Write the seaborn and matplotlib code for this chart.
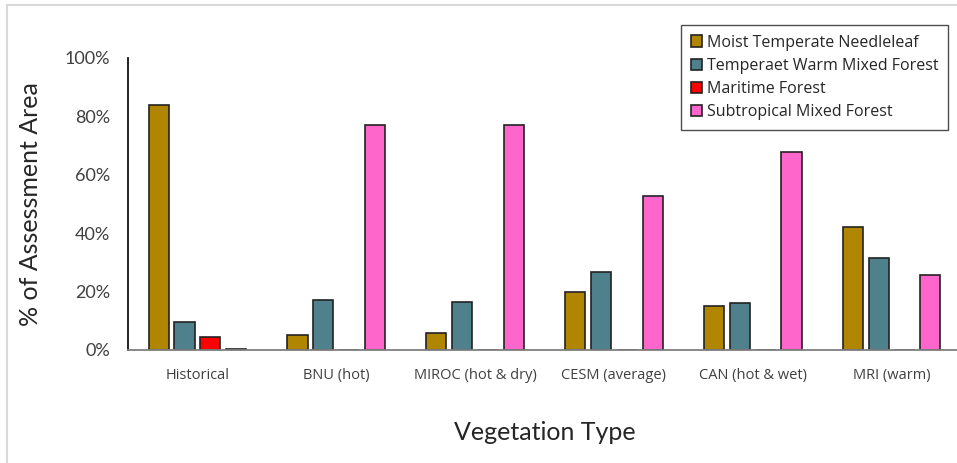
import matplotlib
matplotlib.use("Agg")
import matplotlib.pyplot as plt
from matplotlib.lines import Line2D
from matplotlib.ticker import PercentFormatter
import seaborn as sns
import pandas as pd

# Scenarios (x categories) and vegetation types (hue)
scenarios = ["Historical", "BNU (hot)", "MIROC (hot & dry)", "CESM (average)",
             "CAN (hot & wet)", "MRI (warm)"]
veg_types = ["Moist Temperate Needleleaf", "Temperaet Warm Mixed Forest",
             "Maritime Forest", "Subtropical Mixed Forest"]

# Share of the assessment area per vegetation type (fraction)
moist_temperate_needleleaf = [0.84, 0.051, 0.057, 0.199, 0.152, 0.421]
temperate_warm_mixed = [0.095, 0.171, 0.165, 0.267, 0.162, 0.315]
maritime_forest = [0.046, 0.0, 0.0, 0.0, 0.0, 0.0]
subtropical_mixed = [0.005, 0.77, 0.77, 0.527, 0.678, 0.257]

colors = ["#B08600", "#4F818D", "#FF0000", "#FF66CC"]

series = [moist_temperate_needleleaf, temperate_warm_mixed,
          maritime_forest, subtropical_mixed]
df = pd.DataFrame({
    "scenario": [s for _ in veg_types for s in scenarios],
    "veg": [v for v in veg_types for _ in scenarios],
    "share": [x for vals in series for x in vals],
})

sns.set_theme(style="white")
plt.rcParams["font.family"] = ["Open Sans", "DejaVu Sans"]

fig = plt.figure(figsize=(9.57, 4.63), dpi=100)
ax = fig.add_axes([128 / 957, 1 - 350 / 463, (961 - 128) / 957, 292 / 463])

sns.barplot(data=df, x="scenario", y="share", hue="veg", order=scenarios,
            hue_order=veg_types, palette=colors, width=0.745, gap=0.22,
            edgecolor="#222222", linewidth=1.2, saturation=1, ax=ax,
            legend=True)

ax.set_ylim(0, 1.0)
ax.set_yticks([0, 0.2, 0.4, 0.6, 0.8, 1.0])
ax.yaxis.set_major_formatter(PercentFormatter(1.0, decimals=0))
ax.tick_params(axis="y", length=0, pad=13, labelsize=13, labelcolor="#404040")
ax.tick_params(axis="x", length=0, pad=13, labelsize=10.5, labelcolor="#404040")
for lab in ax.get_yticklabels():
    lab.set_family(["Lato", "DejaVu Sans"])

for side in ("top", "right"):
    ax.spines[side].set_visible(False)
ax.spines["left"].set_color("#111111")
ax.spines["left"].set_linewidth(1.3)
ax.spines["bottom"].set_color("#7f7f7f")
ax.spines["bottom"].set_linewidth(1.3)

ax.set_ylabel("% of Assessment Area", fontsize=18, family=["Lato", "DejaVu Sans"],
              color="#262626", labelpad=16)
ax.set_xlabel("Vegetation Type", fontsize=18, family=["Lato", "DejaVu Sans"],
              color="#262626", labelpad=27)

handles, labels = ax.get_legend_handles_labels()
ax.get_legend().remove()
leg = fig.legend(handles, labels, loc="upper right",
                 bbox_to_anchor=(948 / 957, 1 - 25 / 463),
                 fontsize=11.5, frameon=True, fancybox=False,
                 handlelength=0.7, handleheight=0.7, handletextpad=0.3,
                 labelspacing=0.45, borderpad=0.6, borderaxespad=0)
leg.get_frame().set_edgecolor("#222222")
leg.get_frame().set_linewidth(1.0)
for t in leg.get_texts():
    t.set_color("#262626")

# Thin outer frame of the chart area
fig.add_artist(Line2D([7 / 957, 7 / 957], [0, 1 - 5 / 463],
                      transform=fig.transFigure, color="#d9d9d9", lw=1.5))
fig.add_artist(Line2D([7 / 957, 1], [1 - 5 / 463, 1 - 5 / 463],
                      transform=fig.transFigure, color="#d9d9d9", lw=1.5))

fig.savefig("out.png", dpi=100)
